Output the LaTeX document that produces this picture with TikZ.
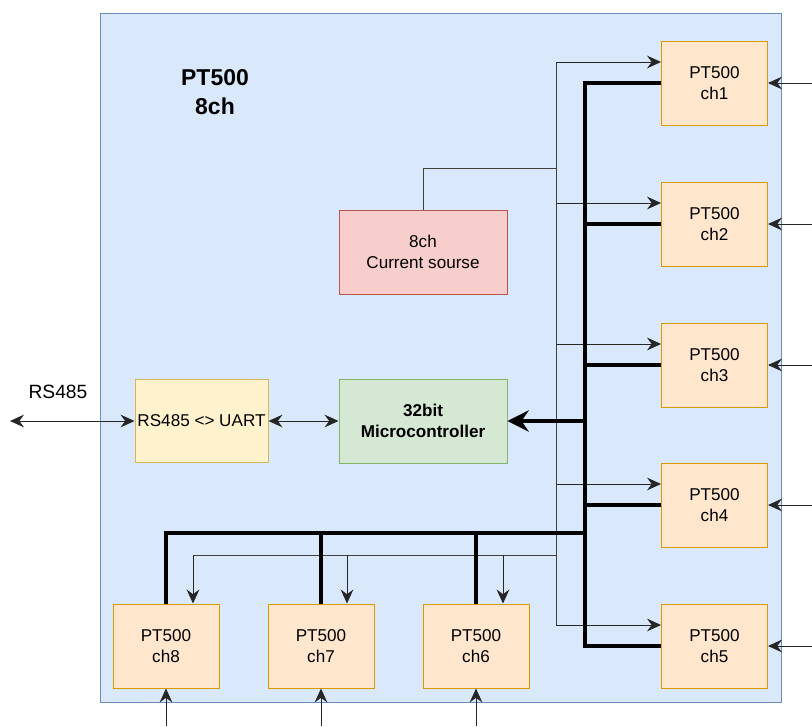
\documentclass[tikz,border=0pt]{standalone}
\usepackage{fontspec}
\setmainfont{Liberation Sans}
\usepackage{tikz}
\usetikzlibrary{arrows.meta,positioning}

\definecolor{boardfill}{HTML}{DAE8FC}
\definecolor{boardline}{HTML}{6C8EBF}
\definecolor{chanfill}{HTML}{FFE6CC}
\definecolor{chanline}{HTML}{D79B00}
\definecolor{srcfill}{HTML}{F8CECC}
\definecolor{srcline}{HTML}{B85450}
\definecolor{uartfill}{HTML}{FFF2CC}
\definecolor{uartline}{HTML}{D6B656}
\definecolor{mcufill}{HTML}{D5E8D4}
\definecolor{mculine}{HTML}{82B366}

\begin{document}
\begin{tikzpicture}[x=0.03cm, y=-0.03cm]
			\tikzstyle{Board}	= [rectangle, draw=boardline, fill=boardfill, line width=0.8pt, minimum width=20.43cm, minimum height=20.67cm]
			\tikzstyle{Block}	= [rectangle, line width=0.8pt, align=center, inner xsep=1pt, font=\fontsize{14.6}{18}\selectfont, minimum height=2.52cm]
			\tikzstyle{Chan}	= [Block, draw=chanline, fill=chanfill, minimum width=3.18cm]
			\tikzstyle{Title}	= [align=center, font=\fontsize{19.6}{25}\selectfont\bfseries]
			\tikzstyle{Sig}		= [line width=0.8pt, black!85, -{Stealth[length=4.2mm, width=3.8mm, inset=1.4mm]}]
			\tikzstyle{Both}	= [line width=0.8pt, black!85, {Stealth[length=4.2mm, width=3.8mm, inset=1.4mm]}-{Stealth[length=4.2mm, width=3.8mm, inset=1.4mm]}]
			\tikzstyle{Line}	= [line width=0.8pt, black!75]
			\tikzstyle{Bus}		= [line width=2.6pt, black]

			\useasboundingbox (0,0) rectangle (812,726);
			\coordinate (edge) at (812,0);
			\coordinate (floor) at (0,726);

			\node (board) at (440.5,357.5) [Board] {};
			\node (title) at (215,92) [Title] {PT500\\8ch};

			\node (cur) at (423,252) [Block, draw=srcline, fill=srcfill, minimum width=5.04cm] {8ch\\Current sourse};
			\node (mcu) at (423,421) [Block, draw=mculine, fill=mcufill, minimum width=5.04cm, font=\fontsize{14.6}{18}\selectfont\bfseries] {32bit\\Microcontroller};
			\node (uart) at (201.5,421) [Block, draw=uartline, fill=uartfill, minimum width=3.99cm, minimum height=2.49cm] {RS485 <> UART};
			\node (rslabel) at (58,392) [font=\fontsize{16.4}{20}\selectfont] {RS485};
			\coordinate (ext) at (10,421);

			\node (ch1) at (714.5,83) [Chan] {PT500\\ch1};
			\node (ch2) at (714.5,224) [Chan] {PT500\\ch2};
			\node (ch3) at (714.5,365) [Chan] {PT500\\ch3};
			\node (ch4) at (714.5,505) [Chan] {PT500\\ch4};
			\node (ch5) at (714.5,646) [Chan] {PT500\\ch5};
			\node (ch6) at (476,646) [Chan] {PT500\\ch6};
			\node (ch7) at (321,646) [Chan] {PT500\\ch7};
			\node (ch8) at (166,646) [Chan] {PT500\\ch8};

			% current source feed
			\coordinate (p0) at (556,168);
			\coordinate (t1) at (556,62);
			\coordinate (t2) at (556,203);
			\coordinate (t3) at (556,344);
			\coordinate (t4) at (556,484);
			\coordinate (t5) at (556,625);
			\coordinate (tb) at (556,555);
			\coordinate (d8) at (193,555);
			\coordinate (d7) at (347,555);
			\coordinate (d6) at (503,555);

			\draw [Line] (cur.north) |- (p0);
			\draw [Line] (t1) -- (t5);
			\draw [Sig] (t1) -- (ch1.west |- t1);
			\draw [Sig] (t2) -- (ch2.west |- t2);
			\draw [Sig] (t3) -- (ch3.west |- t3);
			\draw [Sig] (t4) -- (ch4.west |- t4);
			\draw [Sig] (t5) -- (ch5.west |- t5);
			\draw [Line] (tb) -- (d8);
			\draw [Sig] (d8) -- (d8 |- ch8.north);
			\draw [Sig] (d7) -- (d7 |- ch7.north);
			\draw [Sig] (d6) -- (d6 |- ch6.north);

			% measurement bus
			\coordinate (q5) at (585,646);
			\coordinate (qm) at (585,421);
			\coordinate (qb) at (585,533);
			\draw [Bus] (ch1.west) -| (q5) -- (ch5.west);
			\draw [Bus] (ch2.west) -- (ch2.west -| q5);
			\draw [Bus] (ch3.west) -- (ch3.west -| q5);
			\draw [Bus] (ch4.west) -- (ch4.west -| q5);
			\draw [Bus, -{Stealth[length=6.4mm, width=6.4mm, inset=2.2mm]}] (qm) -- (mcu.east);
			\draw [Bus] (qb) -| (ch8.north);
			\draw [Bus] (ch7.north) -- (ch7.north |- qb);
			\draw [Bus] (ch6.north) -- (ch6.north |- qb);

			% serial link
			\draw [Both] (ext) -- (uart.west);
			\draw [Both] (uart.east) -- (mcu.west);

			% sensor inputs
			\draw [Sig] (ch1.east -| edge) -- (ch1.east);
			\draw [Sig] (ch2.east -| edge) -- (ch2.east);
			\draw [Sig] (ch3.east -| edge) -- (ch3.east);
			\draw [Sig] (ch4.east -| edge) -- (ch4.east);
			\draw [Sig] (ch5.east -| edge) -- (ch5.east);
			\draw [Sig] (ch6.south |- floor) -- (ch6.south);
			\draw [Sig] (ch7.south |- floor) -- (ch7.south);
			\draw [Sig] (ch8.south |- floor) -- (ch8.south);
		\end{tikzpicture}
\end{document}
